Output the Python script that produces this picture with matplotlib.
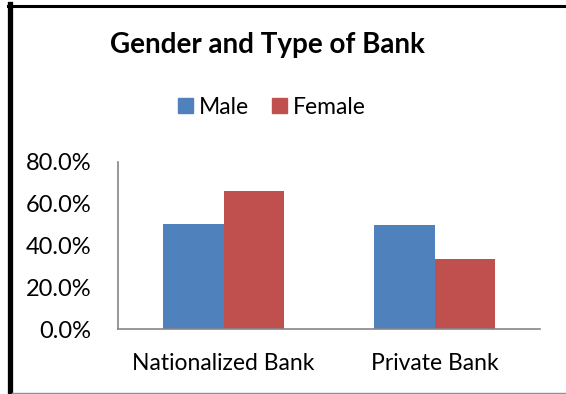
import numpy as np
import matplotlib.pyplot as plt
from matplotlib.lines import Line2D
from matplotlib.patches import Patch
from matplotlib.ticker import PercentFormatter

plt.rcParams['font.family'] = ['Lato', 'DejaVu Sans']

# share of each gender by bank type
banks = ['Nationalized Bank', 'Private Bank']
male = [50.4, 49.6]
female = [66.3, 33.7]

W, H = 566, 394
fig = plt.figure(figsize=(W / 100, H / 100), dpi=100)
ax = fig.add_axes([118 / W, 1 - 329 / H, (540 - 118) / W, (329 - 162) / H])

x = np.arange(len(banks))
w = 0.285
ax.bar(x - w / 2, male, w, color='#4F81BD', label='Male')
ax.bar(x + w / 2, female, w, color='#C0504D', label='Female')

ax.set_xlim(-0.5, 1.5)
ax.set_ylim(0, 80)
ax.set_yticks([0, 20, 40, 60, 80])
ax.yaxis.set_major_formatter(PercentFormatter(decimals=1))
ax.set_xticks(x)
ax.set_xticklabels(banks)
ax.tick_params(axis='y', length=0, labelsize=17, colors='black', pad=19)
ax.tick_params(axis='x', length=0, labelsize=16.5, colors='black', pad=17)

for s in ['top', 'right']:
    ax.spines[s].set_visible(False)
for s in ['left', 'bottom']:
    ax.spines[s].set_color('#868686')
    ax.spines[s].set_linewidth(1.2)

fig.text(267 / W, 1 - 45 / H, 'Gender and Type of Bank', ha='center', va='center',
         fontsize=20, fontweight='bold')

handles = [Patch(color='#4F81BD'), Patch(color='#C0504D')]
fig.legend(handles, ['Male', 'Female'], loc='center', bbox_to_anchor=(272 / W, 1 - 107 / H),
           ncol=2, frameon=False, fontsize=16.5, handlelength=0.65, handleheight=0.65,
           handletextpad=0.25, columnspacing=1.0)

# chart frame
fig.add_artist(Line2D([10 / W, 10 / W], [0, 1 - 4 / H], color='black', lw=3.8))
fig.add_artist(Line2D([7.5 / W, 1], [1 - 5.5 / H, 1 - 5.5 / H], color='black', lw=2.2))
fig.add_artist(Line2D([12 / W, 1], [1 - 392.5 / H, 1 - 392.5 / H], color='#909090', lw=1))

fig.savefig('out.png', dpi=100)
